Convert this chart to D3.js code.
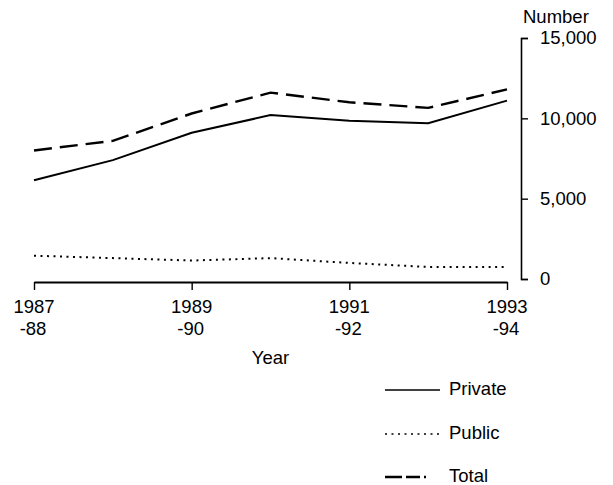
<!DOCTYPE html>
<html>
<head>
<meta charset="utf-8">
<script src="https://cdn.jsdelivr.net/npm/d3@7"></script>
<style>
  body { margin: 0; background: #fff; }
  text { font-family: "Liberation Sans", Arial, Helvetica, sans-serif; fill: #000; }
</style>
</head>
<body>
<div class="chart"></div>
<script>
// data
var years = ["1987-88", "1988-89", "1989-90", "1990-91", "1991-92", "1992-93", "1993-94"];
var privateVals = [6150, 7400, 9100, 10200, 9850, 9700, 11100];
var publicVals = [1450, 1300, 1150, 1300, 1000, 750, 750];
var totalVals = [8000, 8600, 10300, 11600, 11000, 10650, 11800];
var yTicks = [0, 5000, 10000, 15000];
var xTickYears = ["1987-88", "1989-90", "1991-92", "1993-94"];
var legendNames = ["Private", "Public", "Total"];

var svgWidth = 613;
var svgHeight = 485;

var svg = d3.select(".chart")
    .append("svg")
    .attr("width", svgWidth)
    .attr("height", svgHeight);

var fontSize = "18.5px";

// scales
var xScale = d3.scalePoint()
    .domain(years)
    .range([34, 507]);

var yScale = d3.scaleLinear()
    .domain([0, 15000])
    .range([279, 38]);

// y axis on the right
var rightAxis = d3.axisRight(yScale)
    .tickValues(yTicks)
    .tickSize(7)
    .tickPadding(12)
    .tickFormat(d3.format(","));

var yAxisG = svg.append("g")
    .attr("transform", "translate(521, 0)")
    .call(rightAxis);
yAxisG.select(".domain").attr("stroke-width", 1.6);
yAxisG.selectAll(".tick line").attr("stroke-width", 1.4);
yAxisG.selectAll("text")
    .style("font-size", fontSize)
    .attr("font-family", null);

svg.append("text")
    .attr("x", 523)
    .attr("y", 23)
    .style("font-size", fontSize)
    .text("Number");

// x axis
var bottomAxis = d3.axisBottom(xScale)
    .tickValues(xTickYears)
    .tickSize(8)
    .tickSizeOuter(0)
    .tickFormat("");

var xAxisG = svg.append("g")
    .attr("transform", "translate(0, 282)")
    .call(bottomAxis);
xAxisG.select(".domain").attr("stroke-width", 2);
xAxisG.selectAll(".tick line").attr("stroke-width", 1.4);

// two-line year labels
var xLabels = svg.selectAll("text.xlab")
    .data(xTickYears)
    .enter()
    .append("text")
    .attr("class", "xlab")
    .attr("text-anchor", "middle")
    .style("font-size", fontSize);
xLabels.append("tspan")
    .attr("x", d => xScale(d))
    .attr("y", 313)
    .text(d => d.split("-")[0]);
xLabels.append("tspan")
    .attr("x", d => xScale(d) - 1)
    .attr("y", 335)
    .text(d => "-" + d.split("-")[1]);

svg.append("text")
    .attr("x", (34 + 507) / 2)
    .attr("y", 364)
    .attr("text-anchor", "middle")
    .style("font-size", fontSize)
    .text("Year");

// lines
var line = d3.line()
    .x((d, i) => xScale(years[i]))
    .y(d => yScale(d));

var series = [
    {name: "Private", values: privateVals, dash: null, width: 2},
    {name: "Public", values: publicVals, dash: "2,4.5", width: 2},
    {name: "Total", values: totalVals, dash: "18,8", width: 2.4}
];

svg.selectAll("path.series")
    .data(series)
    .enter()
    .append("path")
    .attr("class", "series")
    .attr("fill", "none")
    .attr("stroke", "#000")
    .attr("stroke-width", d => d.width)
    .attr("stroke-dasharray", d => d.dash)
    .attr("d", d => line(d.values));

// legend
var legendY = [390, 434, 477];
var legendDash = [null, "2,4.5", "17,4,14,4,2,20"];

var legend = svg.selectAll("g.legend")
    .data(legendNames)
    .enter()
    .append("g")
    .attr("class", "legend")
    .attr("transform", (d, i) => `translate(0, ${legendY[i]})`);

legend.append("line")
    .attr("x1", 385)
    .attr("x2", 440)
    .attr("y1", 0)
    .attr("y2", 0)
    .attr("stroke", "#000")
    .attr("stroke-width", (d, i) => i == 2 ? 2.4 : 1.6)
    .attr("stroke-dasharray", (d, i) => legendDash[i]);

legend.append("text")
    .attr("x", 449)
    .attr("y", 5)
    .style("font-size", fontSize)
    .text(d => d);
</script>
</body>
</html>
